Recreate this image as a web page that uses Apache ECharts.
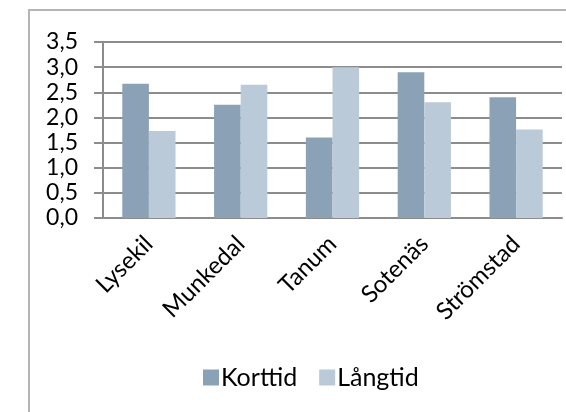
<!DOCTYPE html>
<html>
<head>
<meta charset="utf-8">
<script src="https://cdn.jsdelivr.net/npm/echarts@6/dist/echarts.min.js"></script>
<style>
  html, body { margin: 0; padding: 0; background: #fff; }
  #frame {
    position: absolute; left: 28px; top: 9px; width: 600px; height: 460px;
    border: 2px solid #b4b4b4; box-sizing: border-box;
  }
  #chart { position: absolute; left: 0; top: 0; width: 566px; height: 412px; }
</style>
</head>
<body>
<div id="frame"></div>
<div id="chart"></div>
<script>
const categories = ["Lysekil", "Munkedal", "Tanum", "Sotenäs", "Strömstad"];
const korttid = [2.67, 2.25, 1.6, 2.9, 2.4];
const langtid = [1.73, 2.65, 3.0, 2.3, 1.76];

const font = "Lato, 'DejaVu Sans', sans-serif";

let myChart = echarts.init(document.getElementById("chart"));
myChart.setOption({
  animation: false,
  grid: { left: 103, right: 4, top: 42, bottom: 194 },
  legend: {
    data: ["Korttid", "Långtid"],
    left: 198,
    top: 360,
    itemWidth: 16,
    itemHeight: 16,
    itemGap: 22,
    icon: "rect",
    textStyle: { fontFamily: font, fontSize: 25, color: "#000", padding: [0, 0, 0, -3] },
  },
  xAxis: {
    type: "category",
    data: categories,
    axisLine: { lineStyle: { color: "#8c8c8c", width: 2 } },
    axisTick: { length: 9, lineStyle: { color: "#8c8c8c", width: 2 } },
    axisLabel: {
      rotate: 45,
      fontFamily: font,
      fontSize: 24,
      color: "#000",
      margin: 22,
      interval: 0,
    },
  },
  yAxis: {
    type: "value",
    min: 0,
    max: 3.5,
    interval: 0.5,
    axisLine: { show: true, lineStyle: { color: "#8c8c8c", width: 2 } },
    axisTick: { show: true, length: 9, lineStyle: { color: "#8c8c8c", width: 2 } },
    splitLine: { lineStyle: { color: "#8c8c8c", width: 2 } },
    axisLabel: {
      fontFamily: font,
      fontSize: 23,
      color: "#000",
      margin: 25,
      formatter: (v) => v.toFixed(1).replace(".", ","),
    },
  },
  series: [
    {
      name: "Korttid",
      type: "bar",
      data: korttid,
      barGap: "0%",
      barCategoryGap: "42%",
      itemStyle: { color: "#8ba2b6" },
    },
    {
      name: "Långtid",
      type: "bar",
      data: langtid,
      itemStyle: { color: "#bbcad9" },
    },
  ],
});
window.onresize = myChart.resize;
</script>
</body>
</html>
